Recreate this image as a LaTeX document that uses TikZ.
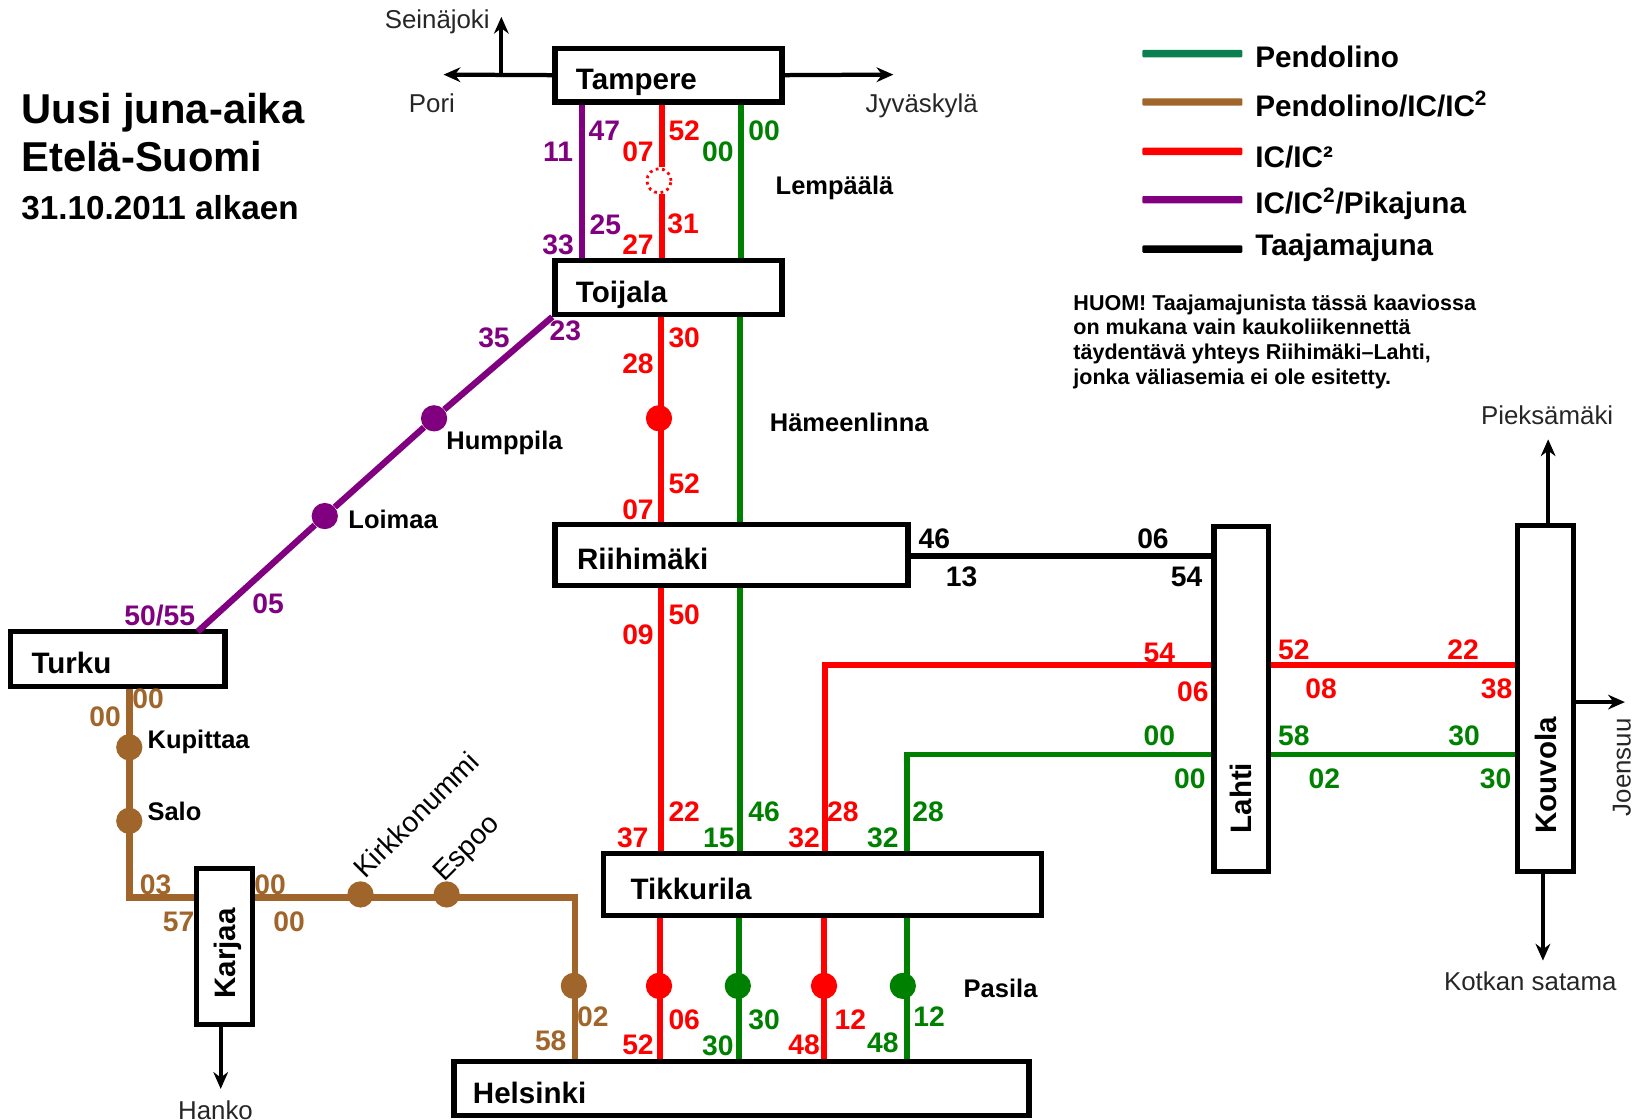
\documentclass[tikz,border=0pt]{standalone}
\usepackage{fontspec}
\setmainfont{Liberation Sans}
\usetikzlibrary{arrows.meta}

\definecolor{trgreen}{HTML}{008000}
\definecolor{trbrown}{HTML}{A0652A}
\definecolor{trred}{HTML}{FF0000}
\definecolor{trpurple}{HTML}{800080}
\definecolor{keygreen}{HTML}{0A8050}

\tikzset{
    stationbox/.style n args={3}{draw, fill=white, line width=2.85pt, inner xsep=#3*0.02cm, inner ysep=0pt,
        minimum width=#1*0.02cm, minimum height=#2*0.02cm, text width={(#1-2*#3)*0.02cm},
        text height=16.5pt, text depth=0.5pt, align=left,
        font=\fontsize{16}{18}\selectfont\bfseries},
    uprightbox/.style={text height=12pt, text depth=0.5pt},
    greentrack/.style={draw=trgreen, line width=3pt},
    browntrack/.style={draw=trbrown, line width=3.6pt},
    redtrack/.style={draw=trred, line width=3.4pt},
    purpletrack/.style={draw=trpurple, line width=3.4pt},
    blacktrack/.style={draw=black, line width=3.7pt},
    stopdot/.style={circle, fill=#1, minimum size=0.5cm, inner sep=0pt},
    hiddenstop/.style={circle, draw=trred, fill=white, dotted, line width=1.5pt, minimum size=0.46cm, inner sep=0pt},
    timelabel/.style={font=\fontsize{15.3}{17}\selectfont\bfseries, text=#1, inner sep=0pt},
    stoplabel/.style={font=\fontsize{13.8}{16}\selectfont\bfseries, inner sep=0pt},
    slantlabel/.style={font=\fontsize{15.3}{17}\selectfont, inner sep=0pt, rotate=45},
    citylabel/.style={font=\fontsize{14}{16}\selectfont, text=black!85, inner sep=0pt},
    exitarrow/.style={-{Stealth[length=0.32cm,width=0.28cm]}, line width=2.3pt},
    keytext/.style={font=\fontsize{16.1}{18}\selectfont\bfseries, anchor=west, inner sep=0pt},
    keybar/.style={fill=#1, minimum width=1.9cm, minimum height=0.14cm, inner sep=0pt, rounded corners=0.5pt},
}

\begin{document}
\begin{tikzpicture}[x=0.02cm, y=-0.02cm]
    \useasboundingbox (0,0) rectangle (1568,1065);

    % Stations
    \node [stationbox={216}{51}{20}] (tampere) at (636,71.5) {Tampere};
    \node [stationbox={216}{51}{20}] (toijala) at (636,273.5) {Toijala};
    \node [stationbox={336}{58}{21}] (riihimaki) at (696,528) {Riihimäki};
    \node [stationbox={204}{52}{20}] (turku) at (112,627) {Turku};
    \node [stationbox={417}{59}{26}] (tikkurila) at (782.5,841.5) {Tikkurila};
    \node [stationbox={547}{51}{18}] (helsinki) at (705.5,1035.5) {Helsinki};
    \node [rotate=90, stationbox={149}{53}{25}, uprightbox] (karjaa) at (213.5,900.5) {Karjaa};
    \node [rotate=90, stationbox={328}{52}{36}, uprightbox] (lahti) at (1181,665) {Lahti};
    \node [rotate=90, stationbox={329}{53}{36}, uprightbox] (kouvola) at (1470.5,664.5) {Kouvola};

    % Stops
    \node [hiddenstop] (lempaala) at (627,172) {};
    \node [stopdot=trred] (hameenlinna) at (627,398) {};
    \node [stopdot=trpurple] (humppila) at (413,398) {};
    \node [stopdot=trpurple] (loimaa) at (309,491) {};
    \node [stopdot=trbrown] (kupittaa) at (123,711) {};
    \node [stopdot=trbrown] (salo) at (123,781) {};
    \node [stopdot=trbrown] (kirkkonummi) at (343,851) {};
    \node [stopdot=trbrown] (espoo) at (425,851) {};
    \node [stopdot=trbrown] (pasilab) at (546,938) {};
    \node [stopdot=trred] (pasilar) at (627,938) {};
    \node [stopdot=trgreen] (pasilag) at (702,938) {};
    \node [stopdot=trred] (pasilas) at (784,938) {};
    \node [stopdot=trgreen] (pasilah) at (859,938) {};

    \coordinate (purplenorth) at (554,170);
    \coordinate (rednorth) at (630,170);
    \coordinate (greennorth) at (705,170);
    \coordinate (redmid) at (629,560);
    \coordinate (greenmid) at (704,560);
    \coordinate (redlow) at (628,930);
    \coordinate (greenlow) at (703,930);
    \coordinate (redcorner) at (785,633);
    \coordinate (greencorner) at (863,718);
    \coordinate (riihilink) at (1000,529);
    \coordinate (turkuend) at (188,601);
    \coordinate (browncorner) at (123,854);
    \coordinate (browneast) at (547,854);
    \coordinate (seinatip) at (477,16);
    \coordinate (poritip) at (422,71);
    \coordinate (jyvaskylatip) at (850,71);
    \coordinate (hankotip) at (210,1036);
    \coordinate (pieksatip) at (1473,418);
    \coordinate (kotkatip) at (1468,914);
    \coordinate (joensuutip) at (1546,668);
    \coordinate (poribranch) at (477,71);

    % Now draw the lines:
    \draw [purpletrack] (tampere.south -| purplenorth) -- (toijala.north -| purplenorth);
    \draw [redtrack] (tampere.south -| rednorth) -- (lempaala.north -| rednorth);
    \draw [redtrack] (lempaala.south -| rednorth) -- (toijala.north -| rednorth);
    \draw [greentrack] (tampere.south -| greennorth) -- (toijala.north -| greennorth);
    \draw [redtrack] (toijala.south -| redmid) -- (riihimaki.north -| redmid);
    \draw [greentrack] (toijala.south -| greenmid) -- (riihimaki.north -| greenmid);
    \draw [redtrack] (riihimaki.south -| redmid) -- (tikkurila.north -| redmid);
    \draw [greentrack] (riihimaki.south -| greenmid) -- (tikkurila.north -| greenmid);
    \draw [purpletrack] (toijala.south west) -- (humppila) -- (loimaa) -- (turkuend);
    \draw [blacktrack] (riihimaki.east |- riihilink) -- (lahti.north |- riihilink);
    \draw [redtrack] (lahti.north |- redcorner) -- (redcorner) -- (tikkurila.north -| redcorner);
    \draw [redtrack] (lahti.south |- redcorner) -- (kouvola.north |- redcorner);
    \draw [greentrack] (lahti.north |- greencorner) -- (greencorner) -- (tikkurila.north -| greencorner);
    \draw [greentrack] (lahti.south |- greencorner) -- (kouvola.north |- greencorner);
    \draw [browntrack] (turku.south -| browncorner) -- (browncorner) -- (karjaa.north |- browncorner);
    \draw [browntrack] (karjaa.south |- browncorner) -- (browneast) -- (helsinki.north -| browneast);
    \draw [redtrack] (tikkurila.south -| redlow) -- (helsinki.north -| redlow);
    \draw [greentrack] (tikkurila.south -| greenlow) -- (helsinki.north -| greenlow);
    \draw [redtrack] (tikkurila.south -| pasilas) -- (helsinki.north -| pasilas);
    \draw [greentrack] (tikkurila.south -| greencorner) -- (helsinki.north -| greencorner);

    % Lines leaving the map
    \draw [exitarrow] (tampere.west) -- (poritip);
    \draw [exitarrow] (poribranch) -- (seinatip);
    \draw [exitarrow] (tampere.east) -- (jyvaskylatip);
    \draw [exitarrow] (karjaa.west -| hankotip) -- (hankotip);
    \draw [exitarrow] (kouvola.east -| pieksatip) -- (pieksatip);
    \draw [exitarrow] (kouvola.west -| kotkatip) -- (kotkatip);
    \draw [exitarrow] (kouvola.south |- joensuutip) -- (joensuutip);

    % Times, purple
    \node [timelabel=trpurple] (pa) at (575,124) {47};
    \node [timelabel=trpurple] (pb) at (531,144) {11};
    \node [timelabel=trpurple] (pc) at (576,214) {25};
    \node [timelabel=trpurple] (pd) at (531,233) {33};
    \node [timelabel=trpurple] (pe) at (470,321) {35};
    \node [timelabel=trpurple] (pf) at (538,315) {23};
    \node [timelabel=trpurple] (pg) at (255,574) {05};
    \node [timelabel=trpurple] (ph) at (152,586) {50/55};

    % Times, red
    \node [timelabel=trred] (ra) at (651,124) {52};
    \node [timelabel=trred] (rb) at (607,144) {07};
    \node [timelabel=trred] (rc) at (650,213) {31};
    \node [timelabel=trred] (rd) at (607,233) {27};
    \node [timelabel=trred] (re) at (651,321) {30};
    \node [timelabel=trred] (rf) at (607,346) {28};
    \node [timelabel=trred] (rg) at (651,460) {52};
    \node [timelabel=trred] (rh) at (607,485) {07};
    \node [timelabel=trred] (ri) at (651,585) {50};
    \node [timelabel=trred] (rj) at (607,604) {09};
    \node [timelabel=trred] (rk) at (651,772) {22};
    \node [timelabel=trred] (rl) at (602,797) {37};
    \node [timelabel=trred] (rm) at (765,797) {32};
    \node [timelabel=trred] (rn) at (802,772) {28};
    \node [timelabel=trred] (ro) at (651,970) {06};
    \node [timelabel=trred] (rp) at (607,994) {52};
    \node [timelabel=trred] (rq) at (809,970) {12};
    \node [timelabel=trred] (rr) at (765,994) {48};
    \node [timelabel=trred] (rs) at (1103,621) {54};
    \node [timelabel=trred] (rt) at (1135,658) {06};
    \node [timelabel=trred] (ru) at (1231,618) {52};
    \node [timelabel=trred] (rv) at (1257,655) {08};
    \node [timelabel=trred] (rw) at (1392,618) {22};
    \node [timelabel=trred] (rx) at (1424,655) {38};

    % Times, green
    \node [timelabel=trgreen] (ga) at (727,124) {00};
    \node [timelabel=trgreen] (gb) at (683,144) {00};
    \node [timelabel=trgreen] (gc) at (684,797) {15};
    \node [timelabel=trgreen] (gd) at (727,772) {46};
    \node [timelabel=trgreen] (ge) at (840,797) {32};
    \node [timelabel=trgreen] (gf) at (883,772) {28};
    \node [timelabel=trgreen] (gg) at (727,970) {30};
    \node [timelabel=trgreen] (gh) at (683,995) {30};
    \node [timelabel=trgreen] (gi) at (884,967) {12};
    \node [timelabel=trgreen] (gj) at (840,992) {48};
    \node [timelabel=trgreen] (gk) at (1103,700) {00};
    \node [timelabel=trgreen] (gl) at (1132,741) {00};
    \node [timelabel=trgreen] (gm) at (1231,700) {58};
    \node [timelabel=trgreen] (gn) at (1260,741) {02};
    \node [timelabel=trgreen] (go) at (1393,700) {30};
    \node [timelabel=trgreen] (gp) at (1423,741) {30};

    % Times, brown
    \node [timelabel=trbrown] (ba) at (141,665) {00};
    \node [timelabel=trbrown] (bb) at (100,682) {00};
    \node [timelabel=trbrown] (bc) at (148,842) {03};
    \node [timelabel=trbrown] (bd) at (170,877) {57};
    \node [timelabel=trbrown] (be) at (257,842) {00};
    \node [timelabel=trbrown] (bf) at (275,877) {00};
    \node [timelabel=trbrown] (bg) at (524,990) {58};
    \node [timelabel=trbrown] (bh) at (564,967) {02};

    % Times, black
    \node [timelabel=black] (ka) at (889,513) {46};
    \node [timelabel=black] (kb) at (1097,513) {06};
    \node [timelabel=black] (kc) at (915,549) {13};
    \node [timelabel=black] (kd) at (1129,549) {54};

    % Names of the stops
    \node [stoplabel] (lempaalatext) at (794,179) {Lempäälä};
    \node [stoplabel] (hameenlinnatext) at (808,402) {Hämeenlinna};
    \node [stoplabel] (humppilatext) at (480,421) {Humppila};
    \node [stoplabel] (loimaatext) at (374,494) {Loimaa};
    \node [stoplabel] (kupittaatext) at (189,706) {Kupittaa};
    \node [stoplabel] (salotext) at (166,772) {Salo};
    \node [stoplabel] (pasilatext) at (952,940) {Pasila};
    \node [slantlabel] (kirkkonummitext) at (396,775) {Kirkkonummi};
    \node [slantlabel] (espootext) at (445,808) {Espoo};

    % Towns beyond the lines
    \node [citylabel] (seinajoki) at (416,21) {Seinäjoki};
    \node [citylabel] (pori) at (411,98) {Pori};
    \node [citylabel] (jyvaskyla) at (877,101) {Jyväskylä};
    \node [citylabel] (hanko) at (205,1056) {Hanko};
    \node [citylabel] (pieksamaki) at (1472,395) {Pieksämäki};
    \node [citylabel] (kotka) at (1456,934) {Kotkan satama};
    \node [citylabel, rotate=90] (joensuu) at (1543,730) {Joensuu};

    % Title
    \node [anchor=west, inner sep=0pt, font=\fontsize{22.6}{24}\selectfont\bfseries] (titlea) at (20,107) {Uusi juna-aika};
    \node [anchor=west, inner sep=0pt, font=\fontsize{22.6}{24}\selectfont\bfseries] (titleb) at (20,149) {Etelä-Suomi};
    \node [anchor=west, inner sep=0pt, font=\fontsize{18}{20}\selectfont\bfseries] (titlec) at (20,198) {31.10.2011 alkaen};

    % Key
    \node [keybar=keygreen] (keya) at (1134.5,51) {};
    \node [keybar=trbrown] (keyb) at (1134.5,97) {};
    \node [keybar=trred] (keyc) at (1134.5,144) {};
    \node [keybar=trpurple] (keyd) at (1134.5,190) {};
    \node [keybar=black] (keye) at (1134.5,237) {};
    \node [keytext] (keytexta) at (1194,54) {Pendolino};
    \node [keytext] (keytextb) at (1194,99) {Pendolino/IC/IC\textsuperscript{2}};
    \node [keytext] (keytextc) at (1194,149) {IC/IC²};
    \node [keytext] (keytextd) at (1194,194) {IC/IC\textsuperscript{2}/Pikajuna};
    \node [keytext] (keytexte) at (1194,236) {Taajamajuna};

    \node [anchor=north west, inner sep=0pt, align=left, font=\fontsize{11.65}{13.4}\selectfont\bfseries] (note) at (1021,280)
        {HUOM! Taajamajunista tässä kaaviossa\\on mukana vain kaukoliikennettä\\täydentävä yhteys Riihimäki--Lahti,\\jonka väliasemia ei ole esitetty.};
\end{tikzpicture}
\end{document}
